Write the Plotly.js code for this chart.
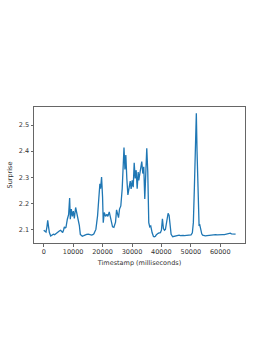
<!DOCTYPE html>
<html>
<head>
<meta charset="utf-8">
<script src="https://cdn.plot.ly/plotly-3.0.1.min.js"></script>
<style>html,body{margin:0;padding:0;background:#fff;}#chart{width:273px;height:353px;}</style>
</head>
<body>
<div id="chart"></div>
<script>
const timestamps = [0,400,780,1100,1360,1650,1930,2370,2800,3280,3700,4170,4600,4970,5400,5760,6100,6440,6750,7010,7300,7560,8030,8470,8810,9040,9380,9720,10060,10400,10850,11190,11630,12100,12440,12800,13120,13600,14000,14600,15150,15700,16270,16700,17060,17400,17730,18000,18300,18750,19090,19320,19660,20000,20230,20580,21020,21470,21800,22270,22710,23100,23390,23840,24100,24410,24750,25080,25420,25760,26200,26670,27010,27280,27600,27900,28240,28600,28800,29150,29400,29700,30070,30410,30750,31080,31420,31760,32100,32300,32640,32980,33320,33670,34000,34340,34680,35020,35360,35700,36030,36370,36850,37290,37600,37970,38300,38540,38900,39220,39660,40000,40340,40680,41020,41360,41800,42270,42610,42950,43290,43830,44300,44750,45200,45530,46000,46440,46900,47350,47800,48240,48700,49150,49600,50070,50510,50850,51190,51530,51860,52100,52440,52650,52800,52980,53200,53460,53700,54000,54460,54920,55500,56030,56600,57200,57800,58400,59000,59600,60200,60800,61400,62000,62600,63000,63390,63800,64300,64800,65200];
const surprise = [2.097,2.093,2.090,2.110,2.135,2.110,2.088,2.075,2.078,2.082,2.080,2.085,2.090,2.093,2.095,2.097,2.094,2.088,2.098,2.110,2.106,2.108,2.139,2.158,2.220,2.139,2.178,2.150,2.170,2.142,2.184,2.165,2.144,2.116,2.081,2.075,2.074,2.076,2.079,2.081,2.082,2.080,2.078,2.080,2.083,2.092,2.100,2.125,2.152,2.223,2.275,2.256,2.301,2.223,2.126,2.165,2.150,2.158,2.150,2.167,2.139,2.120,2.110,2.108,2.115,2.128,2.175,2.158,2.145,2.178,2.190,2.256,2.333,2.414,2.330,2.385,2.295,2.232,2.245,2.278,2.285,2.255,2.288,2.262,2.355,2.295,2.327,2.256,2.320,2.288,2.314,2.327,2.360,2.314,2.340,2.217,2.307,2.411,2.320,2.126,2.110,2.113,2.087,2.073,2.072,2.074,2.080,2.083,2.085,2.087,2.088,2.097,2.141,2.103,2.097,2.100,2.126,2.162,2.154,2.126,2.081,2.072,2.073,2.075,2.077,2.076,2.078,2.076,2.077,2.077,2.076,2.077,2.078,2.077,2.078,2.079,2.087,2.126,2.256,2.398,2.545,2.400,2.191,2.126,2.113,2.120,2.105,2.093,2.083,2.078,2.076,2.075,2.076,2.077,2.078,2.079,2.079,2.080,2.079,2.080,2.080,2.080,2.080,2.081,2.082,2.084,2.086,2.083,2.082,2.082,2.082];
const xTickVals = [0,10000,20000,30000,40000,50000,60000];
const yTickVals = [2.1,2.2,2.3,2.4,2.5];
const xLabel = "Timestamp (milliseconds)";
const yLabel = "Surprise";

const font = {family: "DejaVu Sans", size: 6.5, color: "#333"};
Plotly.newPlot("chart", [{
  x: timestamps, y: surprise, type: "scatter", mode: "lines",
  line: {color: "#1f77b4", width: 1.3}
}], {
  width: 273, height: 353,
  margin: {l: 34, r: 28, t: 107, b: 110, pad: 0},
  paper_bgcolor: "#fff", plot_bgcolor: "#fff",
  showlegend: false,
  font: font,
  xaxis: {
    range: [-3300, 68400], tickvals: xTickVals, ticktext: xTickVals.map(String),
    showgrid: false, zeroline: false, showline: true, mirror: true,
    linecolor: "#666", linewidth: 1, ticks: "outside", ticklen: 2.5, tickcolor: "#666",
    tickfont: font, title: {text: xLabel, font: font, standoff: 5}
  },
  yaxis: {
    range: [2.048, 2.569], tickvals: yTickVals, ticktext: yTickVals.map(v => v.toFixed(1)),
    showgrid: false, zeroline: false, showline: true, mirror: true,
    linecolor: "#666", linewidth: 1, ticks: "outside", ticklen: 2.5, tickcolor: "#666",
    tickfont: font, title: {text: yLabel, font: font, standoff: 5}
  }
}, {staticPlot: true, displayModeBar: false});
</script>
</body>
</html>
